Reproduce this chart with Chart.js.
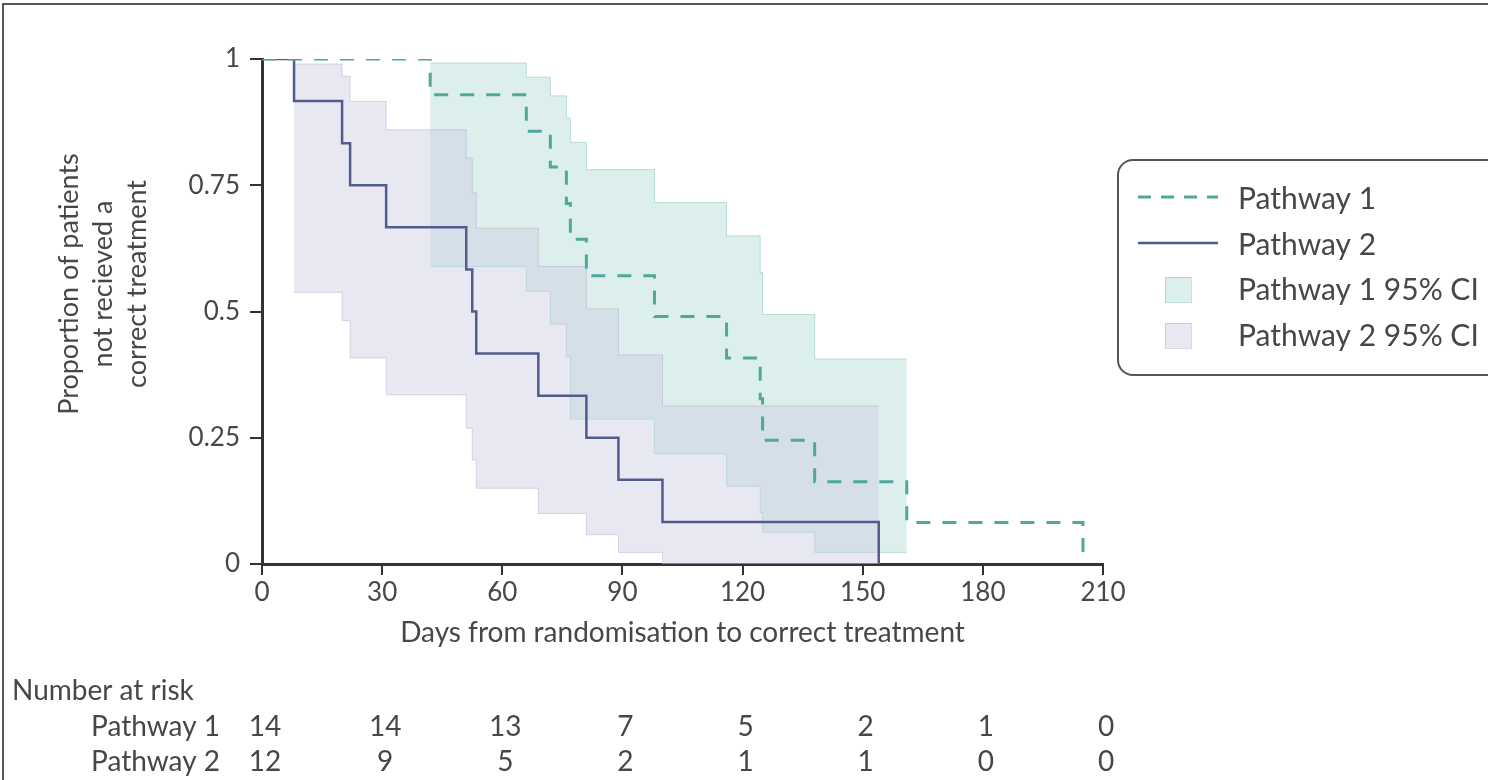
<!DOCTYPE html>
<html>
<head>
<meta charset="utf-8">
<script src="https://cdn.jsdelivr.net/npm/chart.js@4/dist/chart.umd.min.js"></script>
<style>
  html, body { margin: 0; padding: 0; background: #fff; }
  canvas { display: block; }
</style>
</head>
<body>
<canvas id="kmChart" width="1488" height="780"></canvas>
<script>
// axis ticks
const xTicks = [0, 30, 60, 90, 120, 150, 180, 210];
const yTicks = [0, 0.25, 0.5, 0.75, 1];

// Kaplan-Meier steps (value holds from that day on)
const p1Days = [0, 42, 66, 72, 76, 77, 81, 98, 116, 124.4, 125, 138, 161, 205];
const p1Surv = [1, 0.929, 0.857, 0.786, 0.714, 0.643, 0.571, 0.49, 0.408, 0.327, 0.245, 0.163, 0.082, 0];

const p2Days = [0, 8, 20, 22, 31, 51, 52.5, 53.5, 69, 81, 89, 100, 154];
const p2Surv = [1, 0.917, 0.833, 0.75, 0.667, 0.583, 0.5, 0.417, 0.333, 0.25, 0.167, 0.083, 0];

// 95% CI bands
const p1CiDays  = [42, 66, 72, 76, 77, 81, 98, 116, 124.4, 125, 138, 161];
const p1CiUpper = [0.992, 0.964, 0.927, 0.883, 0.835, 0.781, 0.716, 0.65, 0.577, 0.494, 0.406, 0.406];
const p1CiLower = [0.589, 0.54, 0.475, 0.41, 0.287, 0.287, 0.218, 0.154, 0.102, 0.063, 0.023, 0.023];

const p2CiDays  = [8, 20, 22, 31, 51, 52.5, 53.5, 69, 81, 89, 100, 154];
const p2CiUpper = [0.99, 0.966, 0.916, 0.86, 0.804, 0.735, 0.665, 0.589, 0.505, 0.414, 0.313, 0.313];
const p2CiLower = [0.538, 0.482, 0.408, 0.335, 0.269, 0.206, 0.15, 0.1, 0.058, 0.023, 0, 0];

// number at risk (at each x tick)
const riskP1 = [14, 14, 13, 7, 5, 2, 1, 0];
const riskP2 = [12, 9, 5, 2, 1, 1, 0, 0];

const seriesNames = ['Pathway 1', 'Pathway 2', 'Pathway 1 95% CI', 'Pathway 2 95% CI'];
const yTitleLines = ['Proportion of patients', 'not recieved a', 'correct treatment'];
const xTitle = 'Days from randomisation to correct treatment';

const teal = '#4ea99a';
const slate = '#525c8c';
const tealFill = 'rgba(80, 175, 160, 0.2)';
const tealEdge = 'rgba(80, 175, 160, 0.35)';
const slateFill = 'rgba(205, 205, 226, 0.45)';
const slateEdge = 'rgba(170, 170, 200, 0.45)';
const textColor = '#474747';
const fontName = 'Lato, "Open Sans", sans-serif';

function pts(days, vals) {
    return days.map((d, i) => ({ x: d, y: vals[i] }));
}

const extras = {
    id: 'extras',
    afterDraw(chart) {
        const ctx = chart.ctx;
        const xs = chart.scales.x;
        ctx.save();

        // frame
        ctx.strokeStyle = '#222';
        ctx.lineWidth = 1.5;
        ctx.beginPath();
        ctx.moveTo(3, 780);
        ctx.lineTo(3, 4);
        ctx.lineTo(1488, 4);
        ctx.stroke();

        ctx.fillStyle = textColor;

        // y title
        ctx.save();
        ctx.translate(103, 284);
        ctx.rotate(-Math.PI / 2);
        ctx.font = '27px ' + fontName;
        ctx.textAlign = 'center';
        ctx.textBaseline = 'middle';
        yTitleLines.forEach((line, i) => {
            ctx.fillText(line, 0, (i - 1) * 34);
        });
        ctx.restore();

        // x title
        ctx.font = '28px ' + fontName;
        ctx.textAlign = 'center';
        ctx.textBaseline = 'middle';
        ctx.fillText(xTitle, (xs.left + xs.right) / 2, 633);

        // number at risk
        ctx.font = '28px ' + fontName;
        ctx.textAlign = 'left';
        ctx.fillText('Number at risk', 12, 691);
        ctx.textAlign = 'right';
        ctx.fillText(seriesNames[0], 220, 727);
        ctx.fillText(seriesNames[1], 220, 762);
        ctx.textAlign = 'center';
        xTicks.forEach((t, i) => {
            const px = xs.getPixelForValue(t) + 3;
            ctx.fillText(String(riskP1[i]), px, 727);
            ctx.fillText(String(riskP2[i]), px, 762);
        });

        // legend box
        ctx.strokeStyle = '#555';
        ctx.lineWidth = 2;
        ctx.beginPath();
        ctx.roundRect(1118, 160, 420, 215, 15);
        ctx.stroke();

        ctx.lineWidth = 3;
        ctx.strokeStyle = teal;
        ctx.setLineDash([13, 10]);
        ctx.beginPath();
        ctx.moveTo(1138, 197);
        ctx.lineTo(1218, 197);
        ctx.stroke();
        ctx.setLineDash([]);
        ctx.lineWidth = 2.5;
        ctx.strokeStyle = slate;
        ctx.beginPath();
        ctx.moveTo(1138, 243);
        ctx.lineTo(1218, 243);
        ctx.stroke();

        ctx.lineWidth = 1;
        ctx.fillStyle = tealFill;
        ctx.fillRect(1165, 277, 26, 25);
        ctx.strokeStyle = tealEdge;
        ctx.strokeRect(1165.5, 277.5, 26, 25);
        ctx.fillStyle = slateFill;
        ctx.fillRect(1165, 323, 26, 25);
        ctx.strokeStyle = slateEdge;
        ctx.strokeRect(1165.5, 323.5, 26, 25);

        ctx.fillStyle = textColor;
        ctx.font = '30px ' + fontName;
        ctx.textAlign = 'left';
        ctx.textBaseline = 'middle';
        ctx.fillText(seriesNames[0], 1238, 199);
        ctx.fillText(seriesNames[1], 1238, 245);
        ctx.fillText(seriesNames[2], 1238, 290);
        ctx.fillText(seriesNames[3], 1238, 336);

        ctx.restore();
    }
};

new Chart(document.getElementById('kmChart'), {
    type: 'line',
    data: {
        datasets: [
            {
                label: seriesNames[2] + ' upper',
                data: pts(p1CiDays, p1CiUpper),
                stepped: 'before',
                borderColor: tealEdge,
                borderWidth: 1,
                backgroundColor: tealFill,
                fill: '+1',
                order: 5
            },
            {
                label: seriesNames[2] + ' lower',
                data: pts(p1CiDays, p1CiLower),
                stepped: 'before',
                borderColor: tealEdge,
                borderWidth: 1,
                fill: false,
                order: 4
            },
            {
                label: seriesNames[3] + ' upper',
                data: pts(p2CiDays, p2CiUpper),
                stepped: 'before',
                borderColor: slateEdge,
                borderWidth: 1,
                backgroundColor: slateFill,
                fill: '+1',
                order: 3
            },
            {
                label: seriesNames[3] + ' lower',
                data: pts(p2CiDays, p2CiLower),
                stepped: 'before',
                borderColor: slateEdge,
                borderWidth: 1,
                fill: false,
                order: 2
            },
            {
                label: seriesNames[1],
                data: pts(p2Days, p2Surv),
                stepped: 'before',
                borderColor: slate,
                borderWidth: 2.5,
                fill: false,
                order: 1
            },
            {
                label: seriesNames[0],
                data: pts(p1Days, p1Surv),
                stepped: 'before',
                borderColor: teal,
                borderWidth: 3,
                borderDash: [14, 12],
                fill: false,
                order: 0
            }
        ]
    },
    options: {
        responsive: false,
        animation: false,
        layout: {
            padding: { left: 0, right: 385, top: 59, bottom: 176 }
        },
        elements: {
            point: { radius: 0, hoverRadius: 0 },
            line: { borderCapStyle: 'butt' }
        },
        scales: {
            x: {
                type: 'linear',
                min: 0,
                max: 210,
                afterFit: (s) => { s.height = 40; },
                afterBuildTicks: (s) => { s.ticks = xTicks.map(v => ({ value: v })); },
                ticks: {
                    color: textColor,
                    font: { family: fontName, size: 26 },
                    padding: 2,
                    maxRotation: 0,
                    autoSkip: false
                },
                grid: {
                    drawOnChartArea: false,
                    drawTicks: true,
                    tickLength: 11,
                    color: '#333',
                    lineWidth: 2
                },
                border: { color: '#333', width: 3 }
            },
            y: {
                min: 0,
                max: 1,
                afterFit: (s) => { s.width = 262; },
                afterBuildTicks: (s) => { s.ticks = yTicks.map(v => ({ value: v })); },
                ticks: {
                    color: textColor,
                    font: { family: fontName, size: 26 },
                    padding: 10,
                    callback: (v) => String(v)
                },
                grid: {
                    drawOnChartArea: false,
                    drawTicks: true,
                    tickLength: 12,
                    color: '#333',
                    lineWidth: 2
                },
                border: { color: '#333', width: 3 }
            }
        },
        plugins: {
            legend: { display: false },
            tooltip: { enabled: false }
        }
    },
    plugins: [extras]
});
</script>
</body>
</html>
